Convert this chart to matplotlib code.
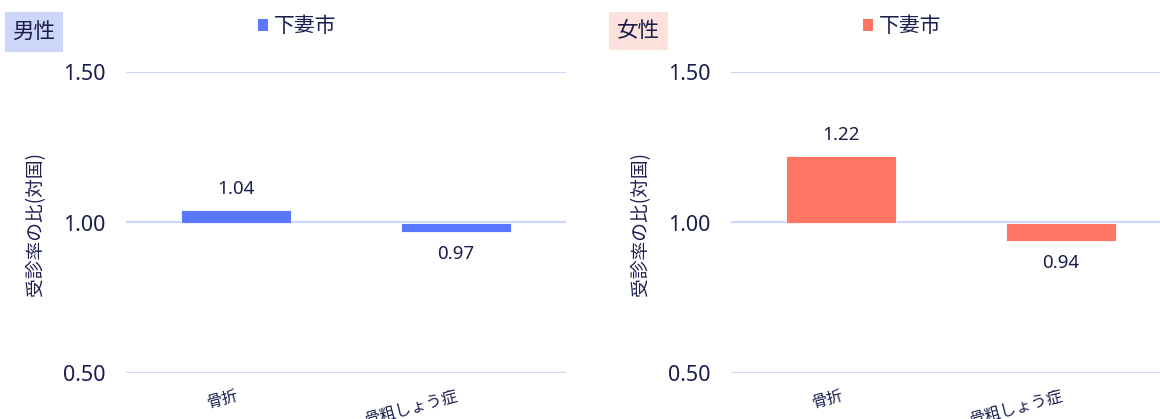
import matplotlib
matplotlib.use("Agg")
import matplotlib.pyplot as plt
from matplotlib.patches import Patch, Rectangle

plt.rcParams['font.family'] = ['Noto Sans', 'Noto Sans CJK JP', 'DejaVu Sans']

categories = ["骨折", "骨粗しょう症"]
male_values = [1.04, 0.97]
female_values = [1.22, 0.94]
series_name = "下妻市"
y_ticks = [0.50, 1.00, 1.50]
y_label = "受診率の比(対国)"
panel_titles = ["男性", "女性"]

W, H = 1160, 419
TEXT = "#1b1d4d"
GRID = "#cdd6fb"
colors = ["#5a78ff", "#ff7563"]
title_bg = ["#cdd5f9", "#fde1dc"]
CJK = ['Noto Sans CJK JP', 'DejaVu Sans']

fig = plt.figure(figsize=(W / 100, H / 100), dpi=100)

def fx(px):
    return px / W

def fy(py):
    return 1 - py / H

panels = [
    dict(left=126, values=male_values, title_box=(5, 12, 63, 52), legend_x=258),
    dict(left=731, values=female_values, title_box=(609, 12, 668, 50), legend_x=863),
]

for i, p in enumerate(panels):
    ax = fig.add_axes([fx(p["left"]), fy(373), 440 / W, 301 / H])
    ax.set_ylim(0.5, 1.5)
    ax.set_xlim(-0.5, len(categories) - 0.5)
    xs = list(range(len(categories)))
    heights = [v - 1.0 for v in p["values"]]
    ax.bar(xs, heights, bottom=1.0, width=0.5, color=colors[i],
           edgecolor="#ffffff", linewidth=0.6, zorder=3, label=series_name)
    for x, v in zip(xs, p["values"]):
        off = 21 if v >= 1 else -22
        ax.annotate(f"{v:.2f}", (x, v), xytext=(0, off), textcoords="offset pixels",
                    ha="center", va="center", fontsize=13.5, color=TEXT)
    ax.set_yticks(y_ticks)
    ax.set_yticklabels([f"{t:.2f}" for t in y_ticks])
    ax.grid(axis="y", color=GRID, linewidth=1.6, zorder=0)
    ax.set_axisbelow(True)
    for s in ax.spines.values():
        s.set_visible(False)
    ax.tick_params(axis="y", length=0, pad=15, labelsize=15.5, labelcolor=TEXT)
    ax.tick_params(axis="x", length=0, pad=10, labelsize=11.5, labelcolor=TEXT)
    ax.set_xticks(xs)
    ax.set_xticklabels(categories, rotation=15, ha="right", va="top",
                       rotation_mode="anchor", family=CJK)
    fig.text(fx(p["left"] - 90), fy(224), y_label, rotation=90, ha="center",
             va="center", fontsize=13.5, color=TEXT, family=CJK)
    x0, y0, x1, y1 = p["title_box"]
    fig.patches.append(Rectangle((fx(x0), fy(y1)), fx(x1) - fx(x0), fy(y0) - fy(y1),
                                 transform=fig.transFigure, facecolor=title_bg[i],
                                 edgecolor="none", zorder=0))
    fig.text((fx(x0) + fx(x1)) / 2, (fy(y0) + fy(y1)) / 2, panel_titles[i],
             ha="center", va="center", fontsize=15.5, color=TEXT, family=CJK)
    handle = Patch(facecolor=colors[i], edgecolor="none")
    fig.legend([handle], [series_name], loc="center left",
               bbox_to_anchor=(fx(p["legend_x"]), fy(26)), frameon=False,
               handlelength=0.5, handleheight=0.5, handletextpad=0.25,
               borderpad=0, borderaxespad=0, labelcolor=TEXT,
               prop={'family': CJK, 'size': 15})

fig.savefig("out.png", dpi=100, facecolor="white")
